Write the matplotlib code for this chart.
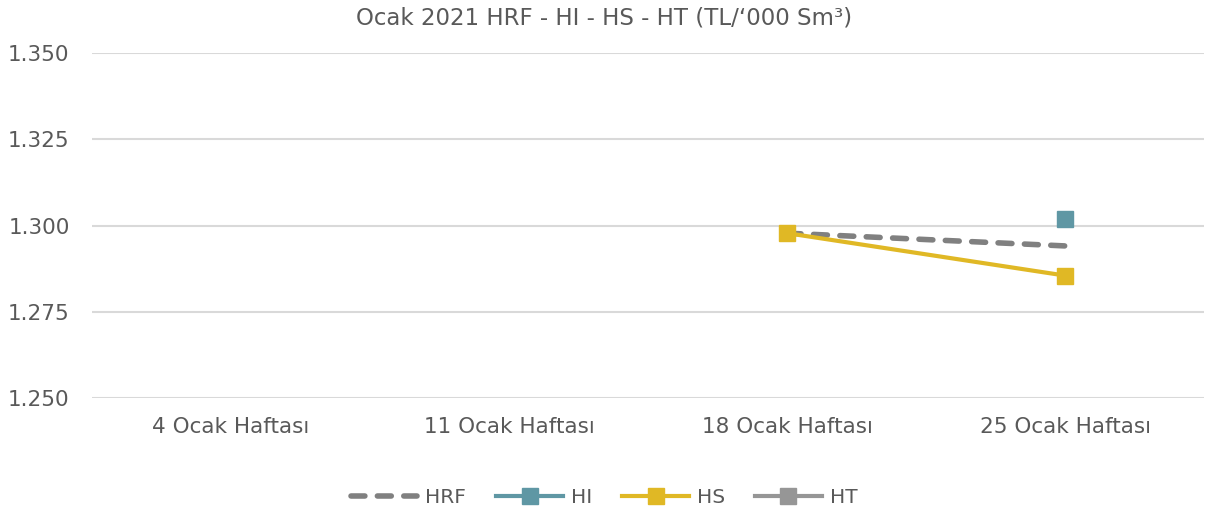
from matplotlib import pyplot as plt
import numpy as np

# Weekly values (TL/'000 Sm3)
weeks = ["4 Ocak Haftası", "11 Ocak Haftası", "18 Ocak Haftası", "25 Ocak Haftası"]
hrf = [np.nan, np.nan, 1297.8, 1294.1]
hi = [np.nan, np.nan, np.nan, 1302.0]
hs = [np.nan, np.nan, 1297.8, 1285.5]
ht = [np.nan, np.nan, np.nan, np.nan]
yticks = [1250, 1275, 1300, 1325, 1350]

plt.rcParams['font.family'] = ['DejaVu Sans']
text_color = "#595959"

fig = plt.figure(figsize=(12.08, 5.21), dpi=100)
ax = fig.add_axes([0.076, 0.236, 0.921, 0.662])

x = np.arange(len(weeks))

ax.plot(x, hrf, color="#808080", lw=4, ls=(0, (2.5, 2.25)), dash_capstyle="round",
        solid_capstyle="round", label="HRF")
ax.plot(x, hi, color="#5F97A4", lw=3, marker="s", ms=11, label="HI")
ax.plot(x, hs, color="#E0B825", lw=3, marker="s", ms=11, label="HS")
ax.plot(x, ht, color="#969696", lw=3, marker="s", ms=11, label="HT")

ax.set_xlim(-0.5, 3.5)
ax.set_ylim(1250, 1350)
ax.set_yticks(yticks)
# Turkish thousands separator
ax.set_yticklabels([f"{v:,.0f}".replace(",", ".") for v in yticks])
ax.set_xticks(x)
ax.set_xticklabels(weeks)
ax.tick_params(axis="both", length=0, labelsize=15.5, colors=text_color)
ax.tick_params(axis="x", pad=14)
ax.tick_params(axis="y", pad=16)

ax.grid(axis="y", color="#D9D9D9", lw=1.5)
ax.set_axisbelow(True)
for s in ax.spines.values():
    s.set_visible(False)

fig.text(0.5, 0.965, "Ocak 2021 HRF - HI - HS - HT (TL/‘000 Sm³)", ha="center", va="center",
         fontsize=16.5, color=text_color)

fig.legend(loc="center", bbox_to_anchor=(0.5, 0.045), ncol=4, frameon=False,
           fontsize=14.5, labelcolor=text_color, handlelength=3.3, handletextpad=0.4,
           columnspacing=1.5)

fig.savefig("out.png", dpi=100)
